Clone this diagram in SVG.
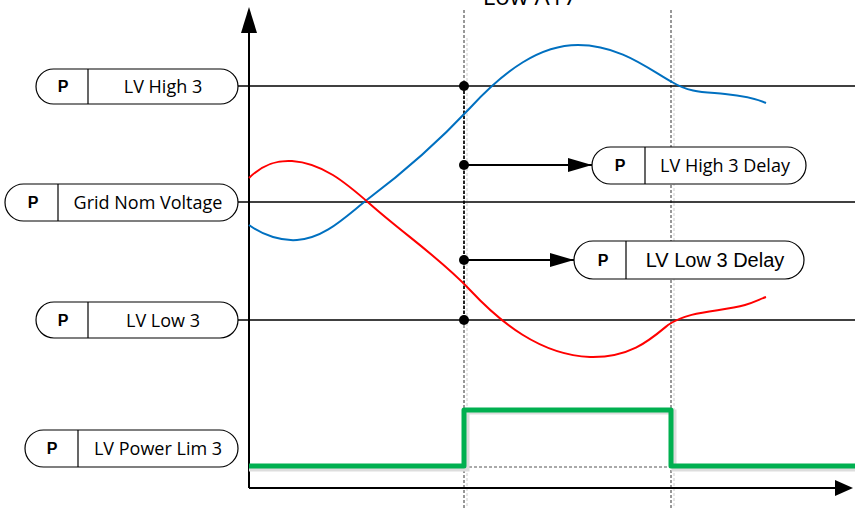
<svg xmlns="http://www.w3.org/2000/svg" width="855" height="508" viewBox="0 0 855 508">
<style>
.pill{fill:#fff;stroke:#000;stroke-width:1.2}
.div{stroke:#000;stroke-width:1.2}
.p{font-family:"Liberation Sans",Arial,sans-serif;font-weight:bold;font-size:16px;text-anchor:middle}
.t{font-family:"Open Sans","Liberation Sans",sans-serif;font-size:18px;text-anchor:middle}
.ax{stroke:#000;stroke-width:2;fill:none}
.lvl{stroke:#000;stroke-width:1.5;fill:none}
.vd{stroke:#333;stroke-width:1;stroke-dasharray:3,2;fill:none}
.vl{stroke:#ccc;stroke-width:1;stroke-dasharray:3,2;fill:none}
</style>
<defs>
<marker id="ah" markerWidth="24" markerHeight="16" refX="24" refY="8" orient="auto" markerUnits="userSpaceOnUse"><path d="M0,1 L24,8 L0,15 z" fill="#000"/></marker>
</defs>
<text x="530" y="5" font-family="Open Sans,Liberation Sans,sans-serif" font-size="24" text-anchor="middle">Low A17</text>
<g id="connectors">
<line x1="467" y1="38" x2="467" y2="508" class="vl"/>
<line x1="674" y1="38" x2="674" y2="508" class="vl"/>
<line x1="464" y1="10" x2="464" y2="508" class="vd"/>
<line x1="671" y1="10" x2="671" y2="508" class="vd"/>
<line x1="464" y1="86" x2="464" y2="320" stroke="#222" stroke-width="2" stroke-dasharray="3,2"/>
<line x1="238" y1="86" x2="855" y2="86" class="lvl"/>
<line x1="238" y1="202" x2="855" y2="202" class="lvl"/>
<line x1="238" y1="320" x2="855" y2="320" class="lvl"/>
<line x1="249" y1="488" x2="249" y2="30" class="ax"/>
<path d="M241,33 L249,7 L257,33 z" fill="#000"/>
<line x1="249" y1="488" x2="836" y2="488" class="ax"/>
<path d="M835,480 L853,488 L835,496 z" fill="#000"/>
<path d="M249,225 C264,236 282,241 297,240 C325,238 345,217 368,199 C400,175 440,140 470,108 C505,70 540,45 578,45 C620,45 650,70 672,82 C690,93 705,92 725,94 C745,96 755,98 766,103" fill="none" stroke="#0070c0" stroke-width="2"/>
<path d="M249,178 C262,165 275,160 292,161 C322,163 345,182 370,204 C405,235 440,258 470,290 C500,322 540,355 590,357 C630,358 650,340 668,325 C690,310 720,312 745,305 C755,302 760,299 766,297" fill="none" stroke="#ff0000" stroke-width="2"/>
<line x1="464" y1="467" x2="671" y2="467" stroke="#555" stroke-width="1" stroke-dasharray="3,2"/>
<path d="M249,469 L467,469 L467,412 L674,412 L674,469 L855,469" fill="none" stroke="#ddd" stroke-width="5"/>
<path d="M249,466 L464,466 L464,410 L671,410 L671,466 L855,466" fill="none" stroke="#00b050" stroke-width="5" stroke-linejoin="round"/>
<line x1="464" y1="165" x2="592" y2="165" stroke="#000" stroke-width="2" marker-end="url(#ah)"/>
<line x1="464" y1="260" x2="574" y2="260" stroke="#000" stroke-width="2" marker-end="url(#ah)"/>
<circle cx="464" cy="86" r="5" fill="#000"/>
<circle cx="464" cy="165" r="5" fill="#000"/>
<circle cx="464" cy="260" r="5" fill="#000"/>
<circle cx="464" cy="320" r="5" fill="#000"/>
</g>
<g id="lv-high-3">
<rect x="36" y="69" width="202" height="35" rx="17.5" class="pill"/>
<line x1="88" y1="69" x2="88" y2="104" class="div"/>
<text x="63" y="92" class="p">P</text>
<text x="163" y="93" class="t">LV High 3</text>
</g>
<g id="grid-nom-voltage">
<rect x="5" y="184" width="233" height="37" rx="18.5" class="pill"/>
<line x1="58" y1="184" x2="58" y2="221" class="div"/>
<text x="33" y="208" class="p">P</text>
<text x="148" y="209" class="t">Grid Nom Voltage</text>
</g>
<g id="lv-low-3">
<rect x="36" y="302" width="202" height="36" rx="18" class="pill"/>
<line x1="88" y1="302" x2="88" y2="338" class="div"/>
<text x="63" y="326" class="p">P</text>
<text x="163" y="327" class="t">LV Low 3</text>
</g>
<g id="lv-power-lim-3">
<rect x="25" y="430" width="213" height="37" rx="18.5" class="pill"/>
<line x1="78" y1="430" x2="78" y2="467" class="div"/>
<text x="52" y="454" class="p">P</text>
<text x="158" y="455" class="t">LV Power Lim 3</text>
</g>
<g id="lv-high-3-delay">
<rect x="592" y="147" width="214" height="37" rx="18.5" class="pill"/>
<line x1="645" y1="147" x2="645" y2="184" class="div"/>
<text x="620" y="171" class="p">P</text>
<text x="725" y="172" class="t">LV High 3 Delay</text>
</g>
<g id="lv-low-3-delay">
<rect x="574" y="241" width="230" height="38" rx="19" class="pill"/>
<line x1="626" y1="241" x2="626" y2="279" class="div"/>
<text x="603" y="266" class="p">P</text>
<text x="715" y="267" font-family="Liberation Sans,Arial,sans-serif" font-size="20" text-anchor="middle">LV Low 3 Delay</text>
</g>
</svg>
